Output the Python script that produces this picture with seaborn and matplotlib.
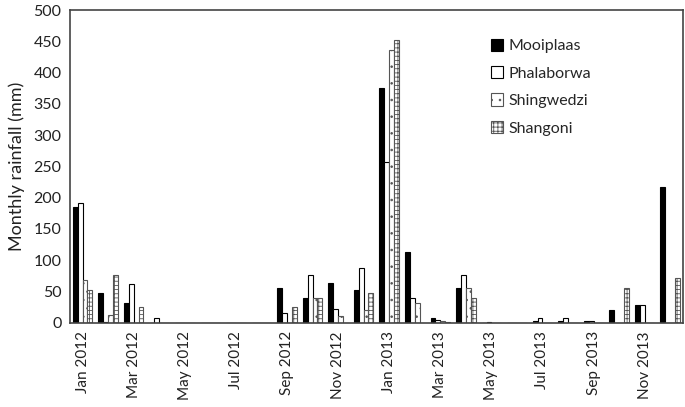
import numpy as np
import pandas as pd
import matplotlib
matplotlib.use("Agg")
import matplotlib.pyplot as plt
import seaborn as sns

months = ["Jan 2012", "Feb 2012", "Mar 2012", "Apr 2012", "May 2012", "Jun 2012",
          "Jul 2012", "Aug 2012", "Sep 2012", "Oct 2012", "Nov 2012", "Dec 2012",
          "Jan 2013", "Feb 2013", "Mar 2013", "Apr 2013", "May 2013", "Jun 2013",
          "Jul 2013", "Aug 2013", "Sep 2013", "Oct 2013", "Nov 2013", "Dec 2013"]
stations = ["Mooiplaas", "Phalaborwa", "Shingwedzi", "Shangoni"]

mooiplaas  = [185, 48, 31, 0, 0, 0, 0, 0, 55, 39, 63, 53, 376, 113, 8, 55, 0, 0, 2.5, 2.5, 3, 21, 28, 217]
phalaborwa = [192, 2, 62, 8, 0, 0, 0, 0, 15, 77, 22, 88, 257, 39, 5, 77, 2, 0, 8, 8, 3, 0, 28, 0]
shingwedzi = [69, 12, 0, 0, 0, 0, 0, 0, 0, 40, 11, 21, 437, 31, 3, 55, 0, 0, 0, 0, 0, 0, 0, 0]
shangoni   = [52, 76, 25, 0, 0, 0, 0, 0, 25, 40, 0, 47, 453, 0, 2, 39, 0, 0, 0, 0, 0, 55, 0, 72]

tick_labels = [m if i % 2 == 0 else "" for i, m in enumerate(months)]

df = pd.DataFrame({
    "Month": months * 4,
    "Station": sum([[s] * len(months) for s in stations], []),
    "Rainfall": mooiplaas + phalaborwa + shingwedzi + shangoni,
})

sns.set_style("white")
plt.rcParams["font.family"] = ["Lato", "DejaVu Sans"]
plt.rcParams["hatch.linewidth"] = 0.6

fig = plt.figure(figsize=(6.85, 4.07), dpi=100)
ax = fig.add_axes([0.102, 0.207, 0.895, 0.768])

sns.barplot(data=df, x="Month", y="Rainfall", hue="Station", order=months,
            hue_order=stations, palette=["black", "white", "white", "white"],
            width=0.76, gap=0, edgecolor="black", linewidth=0.8,
            errorbar=None, ax=ax, legend=False)

hatches = [None, None, "..", "++++"]
edges = ["black", "black", "#555555", "#555555"]
for cont, h, ec in zip(ax.containers, hatches, edges):
    for p in cont.patches:
        if h:
            p.set_hatch(h)
        p.set_edgecolor(ec)

ax.set_xlim(-0.5, len(months) - 0.5)
ax.set_ylim(0, 500)
ax.set_yticks(np.arange(0, 501, 50))
ax.tick_params(axis="y", length=0, labelsize=11.5, pad=6, colors="#222222")

ax.set_xticks(range(len(months)))
ax.set_xticklabels(tick_labels, rotation=90, fontsize=11, color="#222222")
ax.tick_params(axis="x", which="major", length=0, pad=6)
ax.set_xticks(np.arange(-0.5, len(months), 1), minor=True)
ax.tick_params(axis="x", which="minor", length=4, width=1, direction="out", color="#333333")

for s in ax.spines.values():
    s.set_visible(True)
    s.set_color("#444444")
    s.set_linewidth(1.2)

ax.set_xlabel("")
ax.set_ylabel("Monthly rainfall (mm)", fontsize=13, color="#222222", labelpad=6)

handles = [cont.patches[0] for cont in ax.containers]
ax.legend(handles, stations, loc="upper left", bbox_to_anchor=(0.663, 0.955),
          frameon=False, fontsize=11.5, handlelength=0.8, handleheight=0.8,
          handletextpad=0.3, labelspacing=0.8)

fig.savefig("out.png", dpi=100)
